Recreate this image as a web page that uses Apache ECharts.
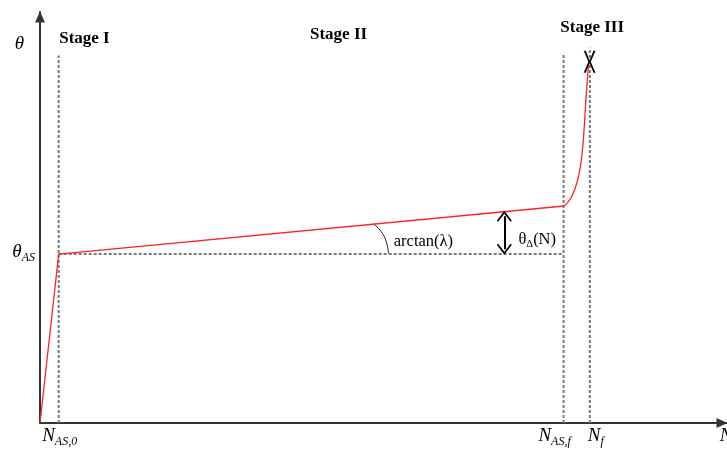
<!DOCTYPE html>
<html>
<head>
<meta charset="utf-8">
<script src="https://cdn.jsdelivr.net/npm/echarts@6/dist/echarts.min.js"></script>
<style>
html, body { margin: 0; padding: 0; background: #fff; }
#chart { width: 727px; height: 455px; }
</style>
</head>
<body>
<div id="chart"></div>
<script>
// Three-stage damage schematic: angle θ against load cycles N

// stage headings
const stageNames = ['Stage I', 'Stage II', 'Stage III'];
const stageLabelN = [6.47, 43.46, 80.38];
const stageLabelTheta = [93.55, 94.6, 96.1];

// stage boundaries N_AS,0 , N_AS,f , N_f
const boundaryN = [2.72, 76.21, 80.04];
const boundaryTop = [89.4, 89.9, 91.3];
const boundarySubs = ['AS,0', 'AS,f', 'f'];

// reference angle level θ_AS and the θ axis caption height
const thetaAS = 41.1;
const thetaCaption = 91.5;

// stages I and II: fast initial rise, then linear growth
const linearN = [0, 2.72, 76.31];
const linearTheta = [0, 41.1, 52.8];

// stage III: accelerating growth up to failure
const failN = [76.31, 77.18, 77.91, 78.49, 78.85, 79.14, 79.46, 79.84, 79.94];
const failTheta = [52.8, 54.5, 57.18, 60.83, 64.72, 70.07, 78.59, 87.1, 88.32];
const failurePoint = [80.0, 87.9];

// slope arc arctan(λ)
const arcN = [48.47, 49.67, 50.39, 50.73];
const arcTheta = [48.54, 46.55, 44.12, 41.24];
const arcLabelPos = [55.81, 44.04];

// θ_Δ(N) offset arrow
const deltaN = 67.59;
const deltaTheta = [42.3, 50.3];
const deltaLabelPos = [72.38, 44.28];

const SERIF = "'Liberation Serif', 'Times New Roman', serif";
const INK = '#000';
const DASH = { color: '#7a7a7a', width: 2, type: [3, 2] };

const pairs = (xs, ys) => xs.map((x, i) => [x, ys[i]]);

const italicRich = {
  m: { fontFamily: SERIF, fontStyle: 'italic', fontSize: 19, color: INK, verticalAlign: 'bottom', lineHeight: 20, padding: [0, 0, 3, 0] },
  s: { fontFamily: SERIF, fontStyle: 'italic', fontSize: 12, color: INK, verticalAlign: 'bottom', lineHeight: 12 }
};

const chevron = 'path://M0,0 L7,9 L5.8,10 L0,2.6 L-5.8,10 L-7,9 Z';
const cross = 'path://M0,0 L2.2,0 L6,9.6 L9.8,0 L12,0 L7.2,11 L12,22 L9.8,22 L6,12.4 L2.2,22 L0,22 L4.8,11 Z';

const series = [];

// dashed stage boundaries
boundaryN.forEach((n, i) => {
  series.push({
    type: 'line', data: [[n, 0], [n, boundaryTop[i]]],
    symbol: 'none', lineStyle: DASH, silent: true, z: 1
  });
});
// dashed θ_AS level
series.push({
  type: 'line', data: [[boundaryN[0], thetaAS], [boundaryN[1], thetaAS]],
  symbol: 'none', lineStyle: DASH, silent: true, z: 1
});

// θ(N) curve
series.push({
  type: 'line', data: pairs(linearN, linearTheta), symbol: 'none',
  lineStyle: { color: '#f22', width: 1.3 }, z: 3
});
series.push({
  type: 'line', data: pairs(failN, failTheta), symbol: 'none', smooth: true,
  lineStyle: { color: '#f22', width: 1.3 }, z: 3
});

// failure cross
series.push({
  type: 'scatter', data: [failurePoint],
  symbol: cross, symbolSize: [12, 22],
  itemStyle: { color: '#111', opacity: 1 }, z: 5
});

// slope arc
series.push({
  type: 'line', data: pairs(arcN, arcTheta), symbol: 'none', smooth: true,
  lineStyle: { color: '#222', width: 1 }, z: 2
});

// double arrow for θ_Δ(N)
series.push({
  type: 'line', data: [], symbol: 'none',
  markLine: {
    silent: true,
    symbol: [chevron, chevron], symbolSize: [15, 11],
    lineStyle: { color: INK, width: 2, type: 'solid' },
    label: { show: false },
    data: [[{ coord: [deltaN, deltaTheta[0]] }, { coord: [deltaN, deltaTheta[1]] }]]
  }
});

// text labels
const textSeries = (data) => ({
  type: 'scatter', symbolSize: 0, silent: true, z: 6,
  itemStyle: { opacity: 1 }, data
});

series.push(textSeries(stageNames.map((name, i) => ({
  value: [stageLabelN[i], stageLabelTheta[i]],
  label: {
    show: true, position: 'inside', formatter: name, opacity: 1,
    fontFamily: SERIF, fontWeight: 'bold', fontSize: 17, color: INK, textBorderWidth: 0
  }
}))));

const nOffsets = [[1, 0], [-9, 0], [6, 0]];
series.push(textSeries(boundaryN.map((n, i) => ({
  value: [n, 0],
  label: {
    show: true, position: 'bottom', distance: 5, offset: nOffsets[i], opacity: 1,
    formatter: '{m|N}{s|' + boundarySubs[i] + '}', rich: italicRich
  }
}))));

// axis captions and annotations
series.push(textSeries([
  {
    value: [100, 0],
    label: { show: true, position: 'bottom', distance: 5, offset: [-1, 0], opacity: 1, formatter: '{m|N}', rich: italicRich }
  },
  {
    value: [0, thetaCaption],
    label: { show: true, position: 'left', distance: 16, opacity: 1, formatter: '{m|θ}', rich: italicRich }
  },
  {
    value: [0, thetaAS],
    label: { show: true, position: 'left', distance: 5, opacity: 1, formatter: '{m|θ}{s|AS}', rich: italicRich }
  },
  {
    value: arcLabelPos,
    label: { show: true, position: 'inside', opacity: 1, formatter: 'arctan(λ)', fontFamily: SERIF, fontSize: 16.5, color: INK, textBorderWidth: 0 }
  },
  {
    value: deltaLabelPos,
    label: {
      show: true, position: 'inside', opacity: 1, formatter: '{a|θ}{b|Δ}{a|(N)}', textBorderWidth: 0,
      rich: {
        a: { fontFamily: SERIF, fontSize: 16.5, color: INK, verticalAlign: 'bottom', lineHeight: 18, padding: [0, 0, 2, 0] },
        b: { fontFamily: SERIF, fontSize: 10.5, color: INK, verticalAlign: 'bottom', lineHeight: 11 }
      }
    }
  }
]));

const axisLine = {
  show: true, onZero: false,
  symbol: ['none', 'triangle'], symbolSize: [10, 11], symbolOffset: [0, -5],
  lineStyle: { color: '#333', width: 2 }
};

const chart = echarts.init(document.getElementById('chart'), null, { renderer: 'canvas' });
chart.setOption({
  animation: false,
  backgroundColor: '#fff',
  grid: { left: 40, right: -1, top: 12, bottom: 32, containLabel: false },
  xAxis: {
    type: 'value', min: 0, max: 100,
    axisLine, axisTick: { show: false }, axisLabel: { show: false }, splitLine: { show: false }
  },
  yAxis: {
    type: 'value', min: 0, max: 100,
    axisLine, axisTick: { show: false }, axisLabel: { show: false }, splitLine: { show: false }
  },
  series
});
</script>
</body>
</html>
